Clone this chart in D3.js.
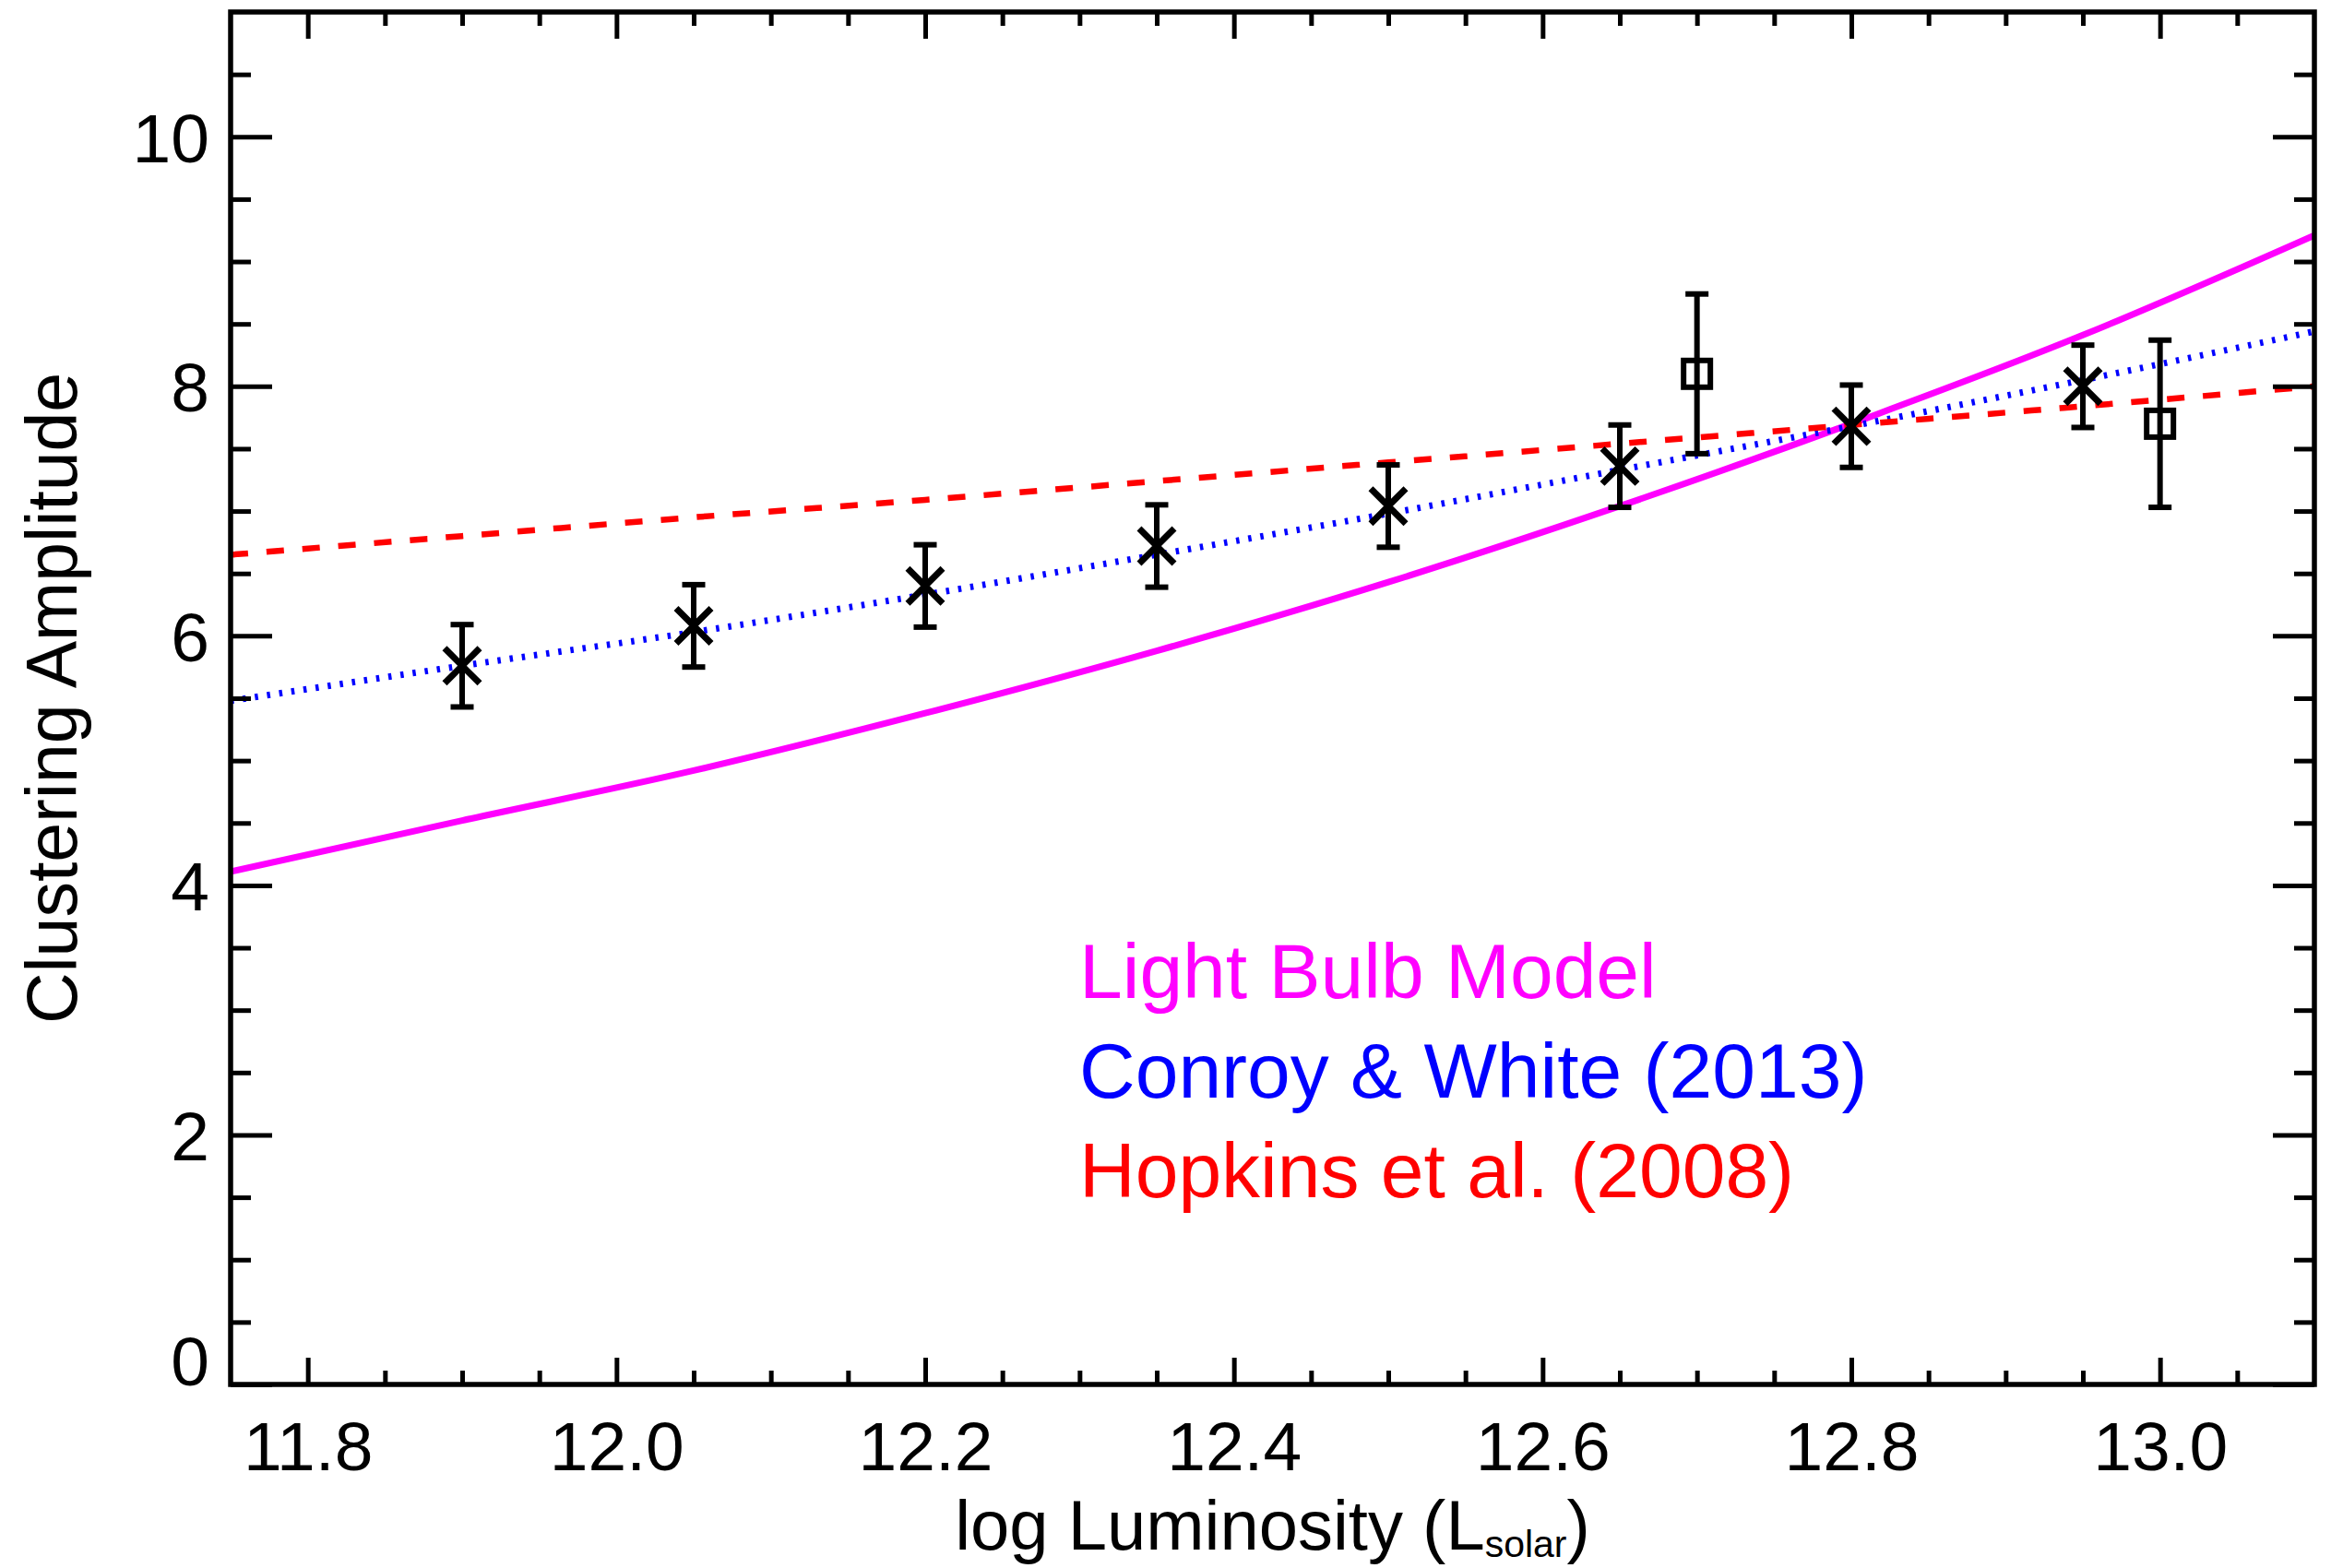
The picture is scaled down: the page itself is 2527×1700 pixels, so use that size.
<!DOCTYPE html>
<html>
<head>
<meta charset="utf-8">
<script src="https://cdn.jsdelivr.net/npm/d3@7"></script>
<style>
  html, body { margin: 0; padding: 0; background: #fff; }
  svg { display: block; }
  text { font-family: "Liberation Sans", Arial, Helvetica, sans-serif; fill: #000; }
</style>
</head>
<body>
<svg id="chart" width="2527" height="1700"></svg>
<script>
// Measured clustering amplitudes (crosses) with 1-sigma errors
const lumCross = [11.9, 12.05, 12.2, 12.35, 12.5, 12.65, 12.8, 12.95];
const ampCross = [5.76, 6.08, 6.40, 6.72, 7.04, 7.36, 7.68, 8.00];
const errCross = [0.33, 0.33, 0.33, 0.33, 0.33, 0.33, 0.33, 0.33];

// Additional measurements (open squares)
const lumSquare = [12.7, 13.0];
const ampSquare = [8.10, 7.70];
const errSquare = [0.64, 0.67];

// Model predictions sampled along log luminosity
const modelLum    = [11.75, 11.9, 12.05, 12.2, 12.35, 12.5, 12.65, 12.8, 12.95, 13.1];
const lightBulb   = [4.11, 4.52, 4.92, 5.38, 5.88, 6.43, 7.04, 7.70, 8.41, 9.21];
const conroyWhite = [5.48, 5.76, 6.03, 6.33, 6.65, 6.98, 7.33, 7.68, 8.05, 8.44];
const hopkins     = [6.65, 6.80, 6.95, 7.09, 7.24, 7.39, 7.54, 7.69, 7.84, 8.00];

// Legend entries
const legendLabels = ["Light Bulb Model", "Conroy & White (2013)", "Hopkins et al. (2008)"];
const legendColors = ["#ff00ff", "#0000ff", "#ff0000"];

// Axis ticks
const xMajorTicks = [11.8, 12.0, 12.2, 12.4, 12.6, 12.8, 13.0];
const xTickLabels = ["11.8", "12.0", "12.2", "12.4", "12.6", "12.8", "13.0"];
const xMinorTicks = [11.85, 11.9, 11.95, 12.05, 12.1, 12.15, 12.25, 12.3, 12.35,
                     12.45, 12.5, 12.55, 12.65, 12.7, 12.75, 12.85, 12.9, 12.95, 13.05];
const yMajorTicks = [0, 2, 4, 6, 8, 10];
const yTickLabels = ["0", "2", "4", "6", "8", "10"];
const yMinorTicks = [0.5, 1, 1.5, 2.5, 3, 3.5, 4.5, 5, 5.5, 6.5, 7, 7.5, 8.5, 9, 9.5, 10.5];

const svg = d3.select("#chart");
const plotL = 250, plotR = 2509, plotT = 13, plotB = 1501;

const x = d3.scaleLinear().domain([11.75, 13.1]).range([plotL, plotR]);
const y = d3.scaleLinear().domain([0, 11]).range([plotB, plotT]);

// Clip region for model curves
svg.append("defs").append("clipPath").attr("id", "plotClip")
  .append("rect").attr("x", plotL).attr("y", plotT)
  .attr("width", plotR - plotL).attr("height", plotB - plotT);

// Model curves
const curves = [
  { vals: lightBulb,   color: "#ff00ff", width: 7,   dash: null },
  { vals: conroyWhite, color: "#0000ff", width: 7,   dash: "3.5 9.8" },
  { vals: hopkins,     color: "#ff0000", width: 6.5, dash: "19 20" }
];
const curveG = svg.append("g").attr("clip-path", "url(#plotClip)");
curves.forEach(c => {
  const line = d3.line()
    .x((d, i) => x(modelLum[i]))
    .y(d => y(d))
    .curve(d3.curveMonotoneX);
  curveG.append("path")
    .attr("d", line(c.vals))
    .attr("fill", "none")
    .attr("stroke", c.color)
    .attr("stroke-width", c.width)
    .attr("stroke-dasharray", c.dash);
});

// Error bars
function drawErrorBars(lums, amps, errs) {
  const g = svg.append("g").attr("stroke", "#000").attr("stroke-width", 6).attr("fill", "none");
  lums.forEach((L, i) => {
    const cx = x(L), y0 = y(amps[i] - errs[i]), y1 = y(amps[i] + errs[i]);
    g.append("line").attr("x1", cx).attr("x2", cx).attr("y1", y0).attr("y2", y1);
    g.append("line").attr("x1", cx - 12.5).attr("x2", cx + 12.5).attr("y1", y0).attr("y2", y0);
    g.append("line").attr("x1", cx - 12.5).attr("x2", cx + 12.5).attr("y1", y1).attr("y2", y1);
  });
}
drawErrorBars(lumCross, ampCross, errCross);
drawErrorBars(lumSquare, ampSquare, errSquare);

// Cross markers
svg.append("g").selectAll("path").data(lumCross).join("path")
  .attr("transform", (d, i) => `translate(${x(d)},${y(ampCross[i])})`)
  .attr("d", "M-19,-19L19,19M-19,19L19,-19")
  .attr("stroke", "#000").attr("stroke-width", 7).attr("fill", "none");

// Square markers
svg.append("g").selectAll("rect").data(lumSquare).join("rect")
  .attr("x", d => x(d) - 14.5)
  .attr("y", (d, i) => y(ampSquare[i]) - 14.5)
  .attr("width", 29).attr("height", 29)
  .attr("stroke", "#000").attr("stroke-width", 6).attr("fill", "none");

// Axes with inward ticks on all four sides
function styleAxis(g) {
  g.select(".domain").remove();
  g.selectAll(".tick line").attr("stroke", "#000").attr("stroke-width", 5);
}
const fs = 75;
const fontStack = "'Liberation Sans', Arial, Helvetica, sans-serif";

// bottom
svg.append("g").attr("transform", `translate(0,${plotB})`)
  .call(d3.axisBottom(x).tickValues(xMinorTicks).tickSizeInner(-15).tickSizeOuter(0).tickFormat(""))
  .call(styleAxis);
const bx = svg.append("g").attr("transform", `translate(0,${plotB})`)
  .call(d3.axisBottom(x).tickValues(xMajorTicks).tickSizeInner(-29).tickSizeOuter(0)
        .tickFormat((d, i) => xTickLabels[i]))
  .call(styleAxis);
bx.selectAll(".tick text").attr("y", 93).attr("dy", 0)
  .attr("font-size", fs).attr("fill", "#000").attr("font-family", fontStack);

// top
svg.append("g").attr("transform", `translate(0,${plotT})`)
  .call(d3.axisTop(x).tickValues(xMinorTicks).tickSizeInner(-15).tickSizeOuter(0).tickFormat(""))
  .call(styleAxis);
svg.append("g").attr("transform", `translate(0,${plotT})`)
  .call(d3.axisTop(x).tickValues(xMajorTicks).tickSizeInner(-29).tickSizeOuter(0).tickFormat(""))
  .call(styleAxis);

// left
svg.append("g").attr("transform", `translate(${plotL},0)`)
  .call(d3.axisLeft(y).tickValues(yMinorTicks).tickSizeInner(-22).tickSizeOuter(0).tickFormat(""))
  .call(styleAxis);
const ly = svg.append("g").attr("transform", `translate(${plotL},0)`)
  .call(d3.axisLeft(y).tickValues(yMajorTicks).tickSizeInner(-45).tickSizeOuter(0).tickPadding(23)
        .tickFormat((d, i) => yTickLabels[i]))
  .call(styleAxis);
ly.selectAll(".tick text")
  .attr("dy", d => d === 0 ? "0" : "0.36em")
  .attr("font-size", fs).attr("fill", "#000").attr("font-family", fontStack);

// right
svg.append("g").attr("transform", `translate(${plotR},0)`)
  .call(d3.axisRight(y).tickValues(yMinorTicks).tickSizeInner(-22).tickSizeOuter(0).tickFormat(""))
  .call(styleAxis);
svg.append("g").attr("transform", `translate(${plotR},0)`)
  .call(d3.axisRight(y).tickValues(yMajorTicks).tickSizeInner(-45).tickSizeOuter(0).tickFormat(""))
  .call(styleAxis);

// Frame
svg.append("rect")
  .attr("x", plotL).attr("y", plotT)
  .attr("width", plotR - plotL).attr("height", plotB - plotT)
  .attr("fill", "none").attr("stroke", "#000").attr("stroke-width", 5.5);

// Axis titles
const xt = svg.append("text")
  .attr("x", (plotL + plotR) / 2).attr("y", 1680)
  .attr("text-anchor", "middle").attr("font-size", 76);
xt.append("tspan").text("log Luminosity (L");
xt.append("tspan").attr("font-size", 41).attr("dy", 8).text("solar");
xt.append("tspan").attr("dy", -8).text(")");

svg.append("text")
  .attr("transform", `translate(83,${(plotT + plotB) / 2}) rotate(-90)`)
  .attr("text-anchor", "middle").attr("font-size", 77)
  .text("Clustering Amplitude");

// Legend
svg.append("g").selectAll("text").data(legendLabels).join("text")
  .attr("x", 1170)
  .attr("y", (d, i) => 1082 + i * 108)
  .attr("font-size", 84)
  .style("fill", (d, i) => legendColors[i])
  .text(d => d);
</script>
</body>
</html>
